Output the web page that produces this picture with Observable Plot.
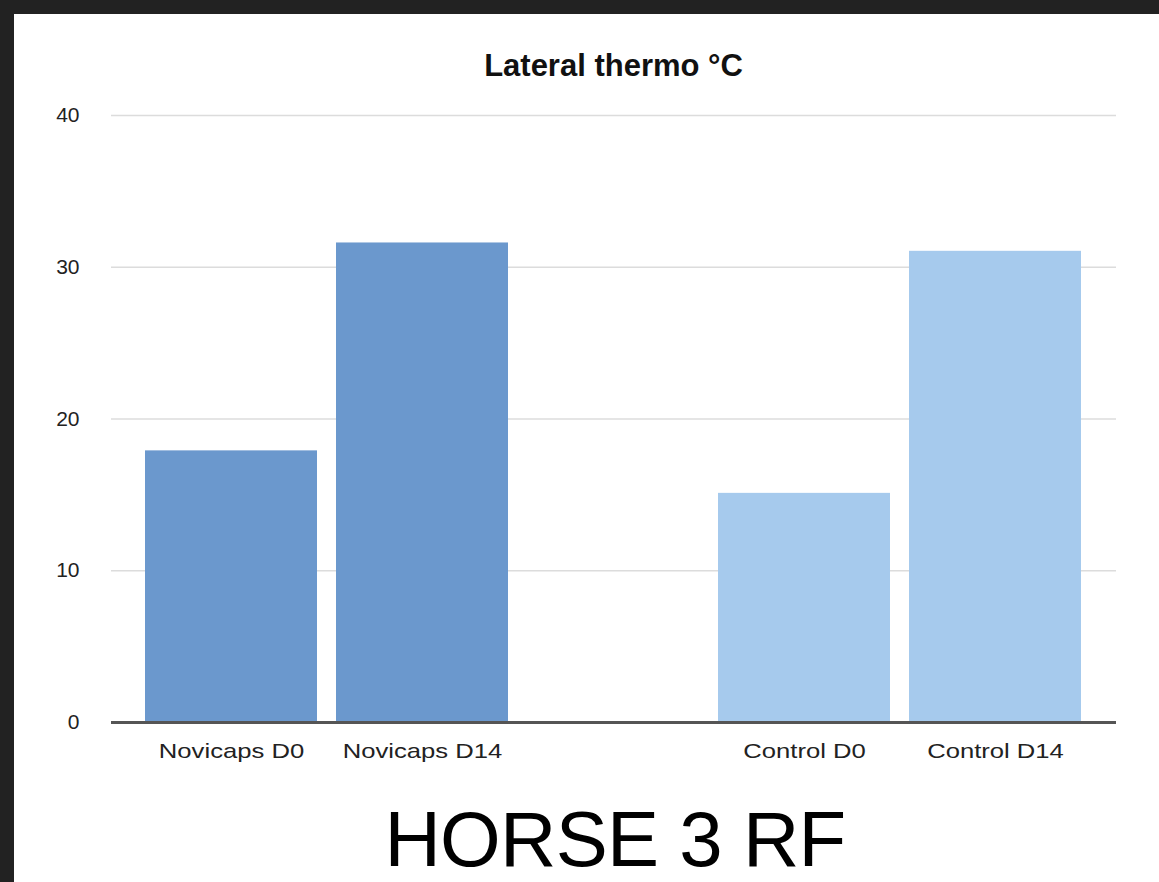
<!DOCTYPE html>
<html>
<head>
<meta charset="utf-8">
<script src="https://cdn.jsdelivr.net/npm/d3@7"></script>
<script src="https://cdn.jsdelivr.net/npm/@observablehq/plot@0.6"></script>
<style>
  html, body { margin: 0; padding: 0; width: 1159px; height: 882px; overflow: hidden; background: #222; }
  #panel { position: absolute; left: 14px; top: 14px; width: 1145px; height: 868px; background: #fff; }
  #chart { position: absolute; left: 0; top: 0; }
  #title { position: absolute; left: 0; width: 1227px; top: 48px; text-align: center; line-height: 1.15;
           font-family: "Liberation Sans", Arial, sans-serif; font-weight: bold; font-size: 31px; color: #111; }
  #caption { position: absolute; left: 0; width: 1230px; top: 795px; text-align: center; line-height: 1.15;
             font-family: "Liberation Sans", Arial, sans-serif; font-size: 78px; color: #000; letter-spacing: -0.7px; }
</style>
</head>
<body>
<div id="panel"></div>
<div id="chart"></div>
<div id="title">Lateral thermo °C</div>
<div id="caption">HORSE 3 RF</div>
<script>
const categories = ["Novicaps D0", "Novicaps D14", "", "Control D0", "Control D14"];
const barLabels = ["Novicaps D0", "Novicaps D14", "Control D0", "Control D14"];
const values = [17.9, 31.6, 15.1, 31.05];
const groups = ["Novicaps", "Novicaps", "Control", "Control"];
const yTicks = [0, 10, 20, 30, 40];

const data = barLabels.map((c, i) => ({ cat: c, value: values[i], group: groups[i] }));

const plot = Plot.plot({
  width: 1159,
  height: 882,
  marginLeft: 111,
  marginRight: 43,
  marginTop: 115,
  marginBottom: 160,
  style: { background: "transparent", fontFamily: "'Liberation Sans', Arial, sans-serif", fontSize: "20px", color: "#222" },
  x: { domain: categories, paddingInner: 0.098, paddingOuter: 0.178, label: null },
  y: { domain: [0, 40], label: null },
  color: { domain: ["Novicaps", "Control"], range: ["#6b98cd", "#a6caed"] },
  marks: [
    Plot.ruleY(yTicks.filter(d => d > 0), { stroke: "#dcdcdc", strokeWidth: 1.5 }),
    Plot.barY(data, { x: "cat", y: "value", fill: "group" }),
    Plot.ruleY([0], { stroke: "#555", strokeWidth: 3 }),
    Plot.axisY({ ticks: yTicks, tickSize: 0, tickPadding: 32, label: null, fontSize: 21 }),
    Plot.axisX({ tickSize: 0, tickPadding: 21, label: null, fontSize: 21, className: "xlab" })
  ]
});
document.getElementById("chart").appendChild(plot);
// widen x tick labels to match the reference's wider typeface
d3.select(plot).selectAll(".xlab text").each(function () {
  const w = this.getComputedTextLength();
  if (w > 0) {
    this.setAttribute("textLength", (w * 1.22).toFixed(1));
    this.setAttribute("lengthAdjust", "spacingAndGlyphs");
  }
});
</script>
</body>
</html>
